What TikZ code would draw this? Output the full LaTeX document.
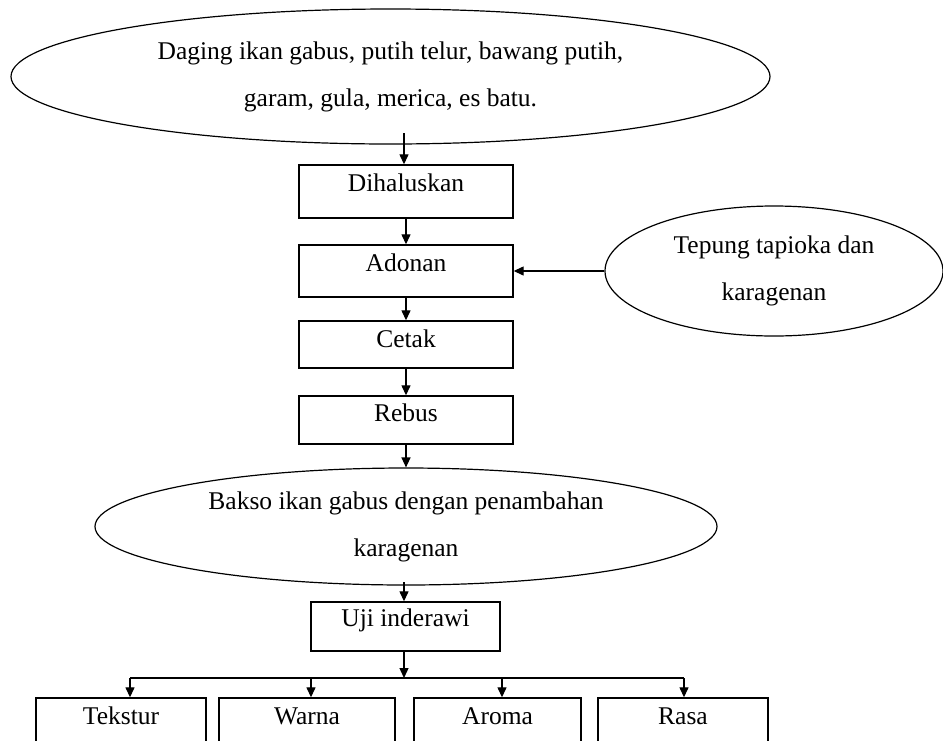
\documentclass[tikz,border=0pt]{standalone}
\usepackage{fontspec}
\setmainfont{Liberation Serif}
\usetikzlibrary{arrows.meta,shapes.geometric}
\begin{document}
\begin{tikzpicture}[x=1pt,y=-1pt,
  every node/.style={font=\fontsize{25.5}{29}\selectfont},
  stepbox/.style={draw,line width=1.4pt,rectangle,inner sep=0pt,minimum width=214pt},
  oval/.style={draw,line width=1.2pt,ellipse,inner sep=0pt,align=center},
  lbl/.style={inner sep=0pt},
  arr/.style={line width=1.3pt,-{Triangle[length=10pt,width=9pt]}},
  ln/.style={line width=1.3pt}]
\useasboundingbox (0,0) rectangle (943,740);
\clip (0,0) rectangle (943,740);
% top ellipse
\node[oval,minimum width=759pt,minimum height=135pt] (bahan) at (390.5,76.5)
  {Daging ikan gabus, putih telur, bawang putih,\\[18pt] garam, gula, merica, es batu.};
% main boxes
\node[stepbox,minimum height=53pt] (hal) at (406,191.5) {};
\node[lbl] (halt) at (406,183) {Dihaluskan};
\node[stepbox,minimum height=52pt] (ado) at (406,271) {};
\node[lbl] (adot) at (406,263) {Adonan};
\node[stepbox,minimum height=47pt] (cet) at (406,344.5) {};
\node[lbl] (cett) at (406,339) {Cetak};
\node[stepbox,minimum height=48pt] (reb) at (406,420) {};
\node[lbl] (rebt) at (406,413) {Rebus};
% right ellipse
\node[oval,minimum width=338pt,minimum height=130pt] (tep) at (774,271)
  {Tepung tapioka dan\\[18pt] karagenan};
% bakso ellipse
\node[oval,minimum width=622pt,minimum height=117pt] (bak) at (406,526.5)
  {Bakso ikan gabus dengan penambahan\\[18pt] karagenan};
% uji
\node[stepbox,minimum width=189pt,minimum height=49pt] (uji) at (405.5,626.5) {};
\node[lbl] (ujit) at (405.5,620) {Uji inderawi};
% bottom boxes
\node[stepbox,minimum width=170pt,minimum height=80pt] (tek) at (121,738) {};
\node[lbl] (tekt) at (121,716) {Tekstur};
\node[stepbox,minimum width=176pt,minimum height=80pt] (war) at (307,738) {};
\node[lbl] (wart) at (307,716) {Warna};
\node[stepbox,minimum width=167pt,minimum height=80pt] (aro) at (497.5,738) {};
\node[lbl] (arot) at (497.5,716) {Aroma};
\node[stepbox,minimum width=170pt,minimum height=80pt] (ras) at (683,738) {};
\node[lbl] (rast) at (683,716) {Rasa};
% connectors
\coordinate (s0) at (404,133);
\draw[arr] (s0) -- (s0 |- hal.north);
\draw[arr] (hal.south) -- (ado.north);
\draw[arr] (ado.south) -- (cet.north);
\draw[arr] (cet.south) -- (reb.north);
\draw[arr] (tep.west) -- (tep.west -| ado.east);
\draw[arr] (reb.south) -- (reb.south |- bak.north);
\coordinate (s1) at (404,582);
\draw[arr] (s1) -- (s1 |- uji.north);
\coordinate (jn) at (404,678);
\draw[arr] (uji.south -| jn) -- (jn);
\coordinate (b1) at (130,678);
\coordinate (b2) at (311,678);
\coordinate (b3) at (502,678);
\coordinate (b4) at (684,678);
\draw[ln] (b1) -- (b4);
\draw[arr] (b1) -- (b1 |- tek.north);
\draw[arr] (b2) -- (b2 |- war.north);
\draw[arr] (b3) -- (b3 |- aro.north);
\draw[arr] (b4) -- (b4 |- ras.north);
\end{tikzpicture}
\end{document}
